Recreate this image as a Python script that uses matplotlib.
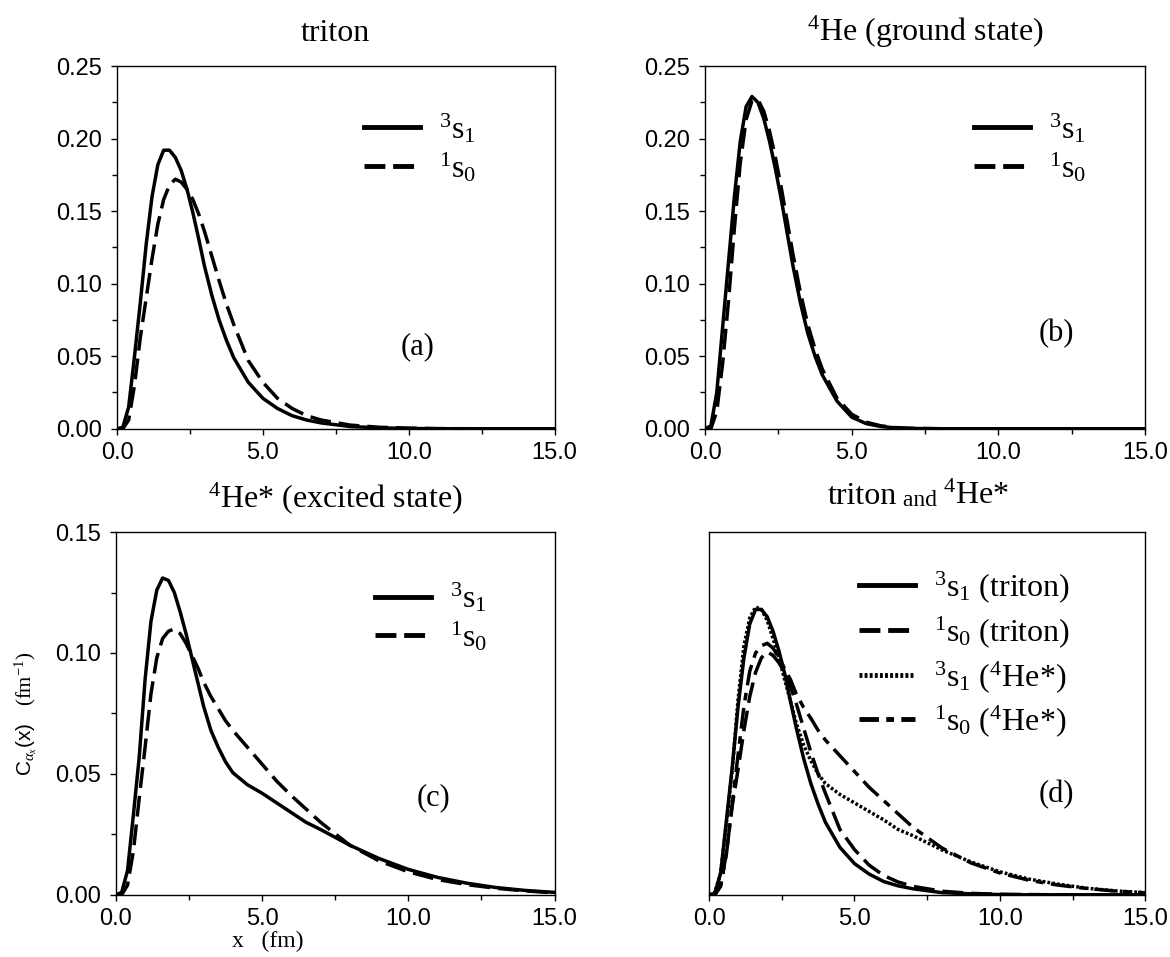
import matplotlib
matplotlib.use("Agg")
import matplotlib.pyplot as plt
from matplotlib.ticker import MultipleLocator, FormatStrFormatter

plt.rcParams['font.family'] = ['Liberation Sans', 'DejaVu Sans']
plt.rcParams['mathtext.fontset'] = 'custom'
plt.rcParams['mathtext.rm'] = 'Liberation Serif'
plt.rcParams['mathtext.it'] = 'Liberation Serif:italic'
plt.rcParams['mathtext.bf'] = 'Liberation Serif:bold'
plt.rcParams['mathtext.sf'] = 'Liberation Sans'

# x grid (fm), shared by every curve
x_fm = [0.0, 0.2, 0.4, 0.6, 0.8, 1.0, 1.2, 1.4, 1.6, 1.8, 2.0, 2.2, 2.4, 2.6, 2.8,
        3.0, 3.25, 3.5, 3.75, 4.0, 4.5, 5.0, 5.5, 6.0, 6.5, 7.0, 8.0, 9.0, 10.0,
        11.0, 12.0, 13.0, 14.0, 15.0]

# (a) triton
triton_3s1 = [0, 0.001, 0.015, 0.05, 0.087, 0.127, 0.160, 0.182, 0.192, 0.192, 0.187,
              0.178, 0.165, 0.149, 0.131, 0.112, 0.092, 0.075, 0.061, 0.049, 0.032,
              0.021, 0.014, 0.009, 0.006, 0.004, 0.0015, 0.0006, 0.0002, 0, 0, 0, 0, 0]
triton_1s0 = [0, 0, 0.006, 0.03, 0.063, 0.09, 0.117, 0.141, 0.158, 0.168, 0.172,
              0.170, 0.165, 0.158, 0.148, 0.136, 0.119, 0.102, 0.086, 0.072, 0.047,
              0.032, 0.021, 0.014, 0.009, 0.006, 0.0025, 0.001, 0.0004, 0.0001, 0, 0, 0, 0]

# (b) 4He ground state
he4_3s1 = [0, 0.002, 0.025, 0.07, 0.115, 0.16, 0.198, 0.222, 0.229, 0.225, 0.214,
           0.198, 0.179, 0.158, 0.135, 0.112, 0.087, 0.066, 0.050, 0.037, 0.019,
           0.008, 0.0035, 0.0015, 0.0006, 0.0002, 0, 0, 0, 0, 0, 0, 0, 0]
he4_1s0 = [0, 0, 0.012, 0.045, 0.088, 0.138, 0.183, 0.213, 0.226, 0.227, 0.219,
           0.205, 0.187, 0.166, 0.143, 0.120, 0.094, 0.072, 0.055, 0.041, 0.021,
           0.010, 0.0045, 0.002, 0.0008, 0.0003, 0, 0, 0, 0, 0, 0, 0, 0]

# (c) 4He* excited state
he4x_3s1 = [0, 0.001, 0.01, 0.033, 0.057, 0.089, 0.113, 0.126, 0.131, 0.130, 0.125,
            0.117, 0.108, 0.098, 0.088, 0.078, 0.068, 0.061, 0.055, 0.0505, 0.0455,
            0.042, 0.038, 0.034, 0.030, 0.027, 0.0205, 0.015, 0.0105, 0.0072,
            0.0048, 0.003, 0.0018, 0.001]
he4x_1s0 = [0, 0, 0.004, 0.018, 0.04, 0.061, 0.083, 0.098, 0.106, 0.109, 0.110,
            0.108, 0.104, 0.099, 0.094, 0.088, 0.082, 0.077, 0.072, 0.068, 0.061,
            0.054, 0.047, 0.041, 0.0355, 0.030, 0.0205, 0.014, 0.0095, 0.0063,
            0.0042, 0.0027, 0.0016, 0.0008]

# (d) triton and 4He* (arbitrary normalisation, no y scale shown)
d_triton_3s1 = [0, 0.0006, 0.009, 0.031, 0.053, 0.078, 0.098, 0.112, 0.118, 0.118,
                0.115, 0.109, 0.101, 0.0915, 0.080, 0.069, 0.0565, 0.046, 0.0375, 0.030,
                0.0196, 0.0129, 0.0086, 0.0055, 0.0037, 0.0025, 0.0009, 0.0004, 0.0001,
                0, 0, 0, 0, 0]
d_triton_1s0 = [0, 0, 0.0035, 0.0175, 0.037, 0.052, 0.068, 0.082, 0.092, 0.098, 0.1005,
                0.099, 0.096, 0.092, 0.086, 0.079, 0.069, 0.059, 0.050, 0.042, 0.027,
                0.0187, 0.0123, 0.008, 0.0053, 0.0035, 0.0015, 0.0006, 0.0002, 0.0001,
                0, 0, 0, 0]
d_he4x_3s1 = [0, 0.0009, 0.009, 0.030, 0.052, 0.081, 0.103, 0.1145, 0.119, 0.118,
              0.1135, 0.106, 0.098, 0.089, 0.080, 0.071, 0.062, 0.0555, 0.050, 0.046,
              0.0415, 0.038, 0.0345, 0.031, 0.027, 0.0245, 0.0186, 0.0136, 0.0095,
              0.0065, 0.0044, 0.0027, 0.0016, 0.0009]
d_he4x_1s0 = [0, 0, 0.004, 0.017, 0.038, 0.058, 0.078, 0.0925, 0.100, 0.103, 0.104,
              0.102, 0.098, 0.0935, 0.089, 0.083, 0.0775, 0.073, 0.068, 0.064, 0.0575,
              0.051, 0.0445, 0.039, 0.0335, 0.028, 0.0194, 0.0132, 0.009, 0.006,
              0.004, 0.0026, 0.0015, 0.0008]

SERIF = 'Liberation Serif'
DASH = (0, (6, 2.3))
DOT = (0, (0.8, 0.6))
DASHDOT = (0, (6, 2.2, 2.2, 2.2))
LW = 2.5
LEG_LW = 3.5
LEG_STYLES = {'--': (0, (4.3, 1.6)), '-.': (0, (4.0, 1.5, 1.6, 1.5)),
              ':': (0, (0.6, 0.45))}


def style_axes(ax, ymax, show_y=True):
    ax.set_xlim(0, 15)
    ax.set_ylim(0, ymax)
    ax.xaxis.set_major_locator(MultipleLocator(5))
    ax.xaxis.set_minor_locator(MultipleLocator(2.5))
    ax.xaxis.set_major_formatter(FormatStrFormatter('%.1f'))
    ax.tick_params(which='both', direction='out', top=False, right=False,
                   labelsize=17, width=1)
    ax.tick_params(which='major', length=4.5)
    ax.tick_params(which='minor', length=3.3)
    ax.tick_params(axis='x', pad=5)
    ax.tick_params(axis='y', pad=6)
    if show_y:
        ax.yaxis.set_major_locator(MultipleLocator(0.05))
        ax.yaxis.set_minor_locator(MultipleLocator(0.025))
        ax.yaxis.set_major_formatter(FormatStrFormatter('%.2f'))
    else:
        ax.set_yticks([])
        ax.yaxis.set_minor_locator(plt.NullLocator())
    for s in ax.spines.values():
        s.set_linewidth(1.0)


def add_legend(ax, x0, ymid, kinds, spacing=0.15):
    leg = ax.legend(loc='center left', bbox_to_anchor=(x0, ymid), frameon=False,
                    borderpad=0, borderaxespad=0, handlelength=1.75,
                    handletextpad=0.6, labelspacing=spacing,
                    prop={'family': SERIF, 'size': 23})
    for h, k in zip(leg.get_lines(), kinds):
        h.set_linewidth(LEG_LW)
        if k in LEG_STYLES:
            h.set_linestyle(LEG_STYLES[k])
    return leg


fig = plt.figure(figsize=(11.7, 9.57), dpi=100)
ax_a = fig.add_axes([0.100, 0.552, 0.374, 0.379])
ax_b = fig.add_axes([0.6026, 0.552, 0.376, 0.379])
ax_c = fig.add_axes([0.099, 0.065, 0.375, 0.379])
ax_d = fig.add_axes([0.606, 0.065, 0.373, 0.379])

# (a)
ax_a.plot(x_fm, triton_3s1, color='black', lw=LW, label=r'$^3$s$_1$')
ax_a.plot(x_fm, triton_1s0, color='black', lw=LW, ls=DASH, label=r'$^1$s$_0$')
style_axes(ax_a, 0.25)
add_legend(ax_a, 0.564, 0.774, ['-', '--'])
ax_a.text(0.687, 0.226, '(a)', transform=ax_a.transAxes, ha='center', va='center',
          family=SERIF, fontsize=22)
ax_a.set_title('triton', family=SERIF, fontsize=23, pad=18)

# (b)
ax_b.plot(x_fm, he4_3s1, color='black', lw=LW, label=r'$^3$s$_1$')
ax_b.plot(x_fm, he4_1s0, color='black', lw=LW, ls=DASH, label=r'$^1$s$_0$')
style_axes(ax_b, 0.25)
add_legend(ax_b, 0.611, 0.774, ['-', '--'])
ax_b.text(0.799, 0.263, '(b)', transform=ax_b.transAxes, ha='center', va='center',
          family=SERIF, fontsize=22)
ax_b.set_title(r'$^4$He (ground state)', family=SERIF, fontsize=23, pad=18)

# (c)
ax_c.plot(x_fm, he4x_3s1, color='black', lw=LW, label=r'$^3$s$_1$')
ax_c.plot(x_fm, he4x_1s0, color='black', lw=LW, ls=DASH, label=r'$^1$s$_0$')
style_axes(ax_c, 0.15)
add_legend(ax_c, 0.59, 0.765, ['-', '--'])
ax_c.text(0.724, 0.268, '(c)', transform=ax_c.transAxes, ha='center', va='center',
          family=SERIF, fontsize=22)
ax_c.set_title(r'$^4$He* (excited state)', family=SERIF, fontsize=23, pad=18)
ax_c.set_ylabel(r'C$_{\alpha_x}$(x)   $\mathrm{(fm}^{-1}\mathrm{)}$', fontsize=15,
                labelpad=12)
ax_c.set_xlabel('x   (fm)', family=SERIF, fontsize=17)
ax_c.xaxis.set_label_coords(0.346, -0.10)

# (d)
ax_d.plot(x_fm, d_triton_3s1, color='black', lw=LW, label=r'$^3$s$_1$ (triton)')
ax_d.plot(x_fm, d_triton_1s0, color='black', lw=LW, ls=DASH, label=r'$^1$s$_0$ (triton)')
ax_d.plot(x_fm, d_he4x_3s1, color='black', lw=LW, ls=DOT, label=r'$^3$s$_1$ ($^4$He*)')
ax_d.plot(x_fm, d_he4x_1s0, color='black', lw=LW, ls=DASHDOT, label=r'$^1$s$_0$ ($^4$He*)')
style_axes(ax_d, 0.15, show_y=False)
add_legend(ax_d, 0.343, 0.663, ['-', '--', ':', '-.'], spacing=0.28)
ax_d.text(0.796, 0.277, '(d)', transform=ax_d.transAxes, ha='center', va='center',
          family=SERIF, fontsize=22)
t1 = ax_d.text(0.43, 1.077, 'triton', transform=ax_d.transAxes, ha='right',
               va='baseline', family=SERIF, fontsize=23)
t2 = ax_d.annotate(' and ', xy=(1, 0), xycoords=t1, ha='left', va='bottom',
                   family=SERIF, fontsize=17)
ax_d.annotate(r'$^4$He*', xy=(1, 0), xycoords=t2, ha='left', va='bottom',
              family=SERIF, fontsize=23)

fig.savefig('out.png', dpi=100)
